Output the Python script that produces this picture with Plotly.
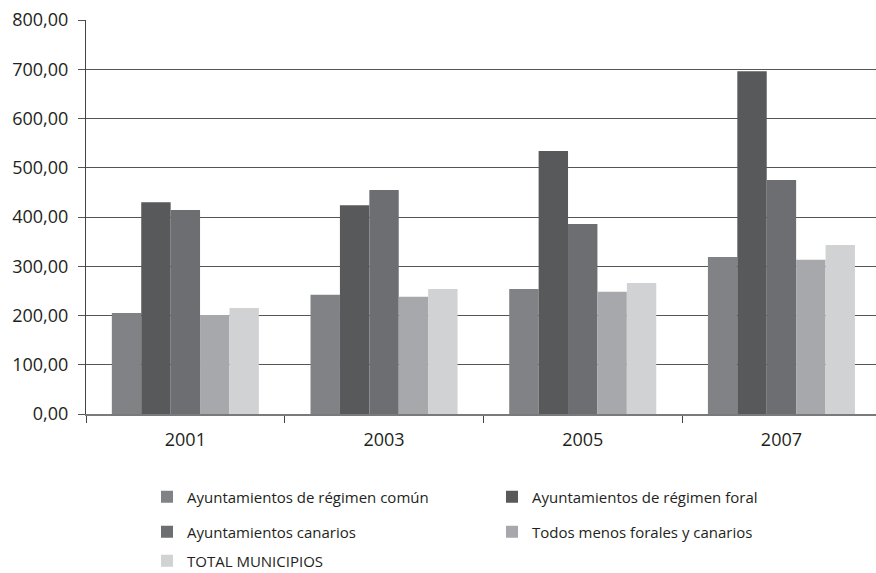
import plotly.graph_objects as go

# Municipal data by year
years = ["2001", "2003", "2005", "2007"]
comun = [205, 242, 254, 319]
foral = [430, 424, 534, 696]
canarios = [414, 455, 386, 475]
todos = [201, 238, 248, 313]
total = [215, 254, 266, 343]

series_names = [
    "Ayuntamientos de régimen común",
    "Ayuntamientos de régimen foral",
    "Ayuntamientos canarios",
    "Todos menos forales y canarios",
    "TOTAL MUNICIPIOS",
]
series_values = [comun, foral, canarios, todos, total]
series_colors = ["#818285", "#58595b", "#6d6e71", "#a7a8ab", "#d1d2d4"]
# legend rows: two entries per row
series_legends = ["legend", "legend", "legend2", "legend2", "legend3"]

y_ticks = [0, 100, 200, 300, 400, 500, 600, 700, 800]
y_ticktext = [f"{v:,.2f}".replace(".", ",") for v in y_ticks]

FONT = "Open Sans, Lato, sans-serif"
TXT = "#231f20"

fig = go.Figure()
for name, vals, col, lg in zip(series_names, series_values, series_colors, series_legends):
    fig.add_trace(go.Bar(
        x=years, y=vals, name=name, marker=dict(color=col, line=dict(width=0)),
        legend=lg,
    ))

W, H = 876, 573
legend_common = dict(
    orientation="h", xref="container", yref="container",
    xanchor="left", yanchor="middle",
    font=dict(family=FONT, size=15, color=TXT),
    entrywidth=300, entrywidthmode="pixels",
    bgcolor="rgba(0,0,0,0)", itemclick=False,
)

fig.update_layout(
    width=W, height=H,
    margin=dict(l=86, r=0, t=20, b=H - 414),
    paper_bgcolor="white", plot_bgcolor="white",
    barmode="group", bargap=0.26, bargroupgap=0,
    font=dict(family=FONT, size=18, color=TXT),
    legend=dict(legend_common, x=147 / W, y=1 - 497 / H),
    legend2=dict(legend_common, x=147 / W, y=1 - 532 / H),
    legend3=dict(legend_common, x=147 / W, y=1 - 561 / H),
    xaxis=dict(
        type="category", range=[-0.5, 3.476],
        showline=True, linecolor="#7a7a7a", linewidth=2,
        ticks="outside", tickson="boundaries", ticklen=7, tickcolor="#444",
        ticklabelstandoff=8,
        tickfont=dict(family=FONT, size=18, color=TXT),
        showgrid=False,
    ),
    yaxis=dict(
        range=[0, 800], tickvals=y_ticks, ticktext=y_ticktext,
        showgrid=True, gridcolor="#555", gridwidth=1.3,
        showline=True, linecolor="#444", linewidth=1.3,
        ticks="outside", ticklen=7, tickcolor="#555",
        ticklabelstandoff=6,
        zeroline=False,
        tickfont=dict(family=FONT, size=18, color=TXT),
    ),
)

fig.write_html("out.html")
